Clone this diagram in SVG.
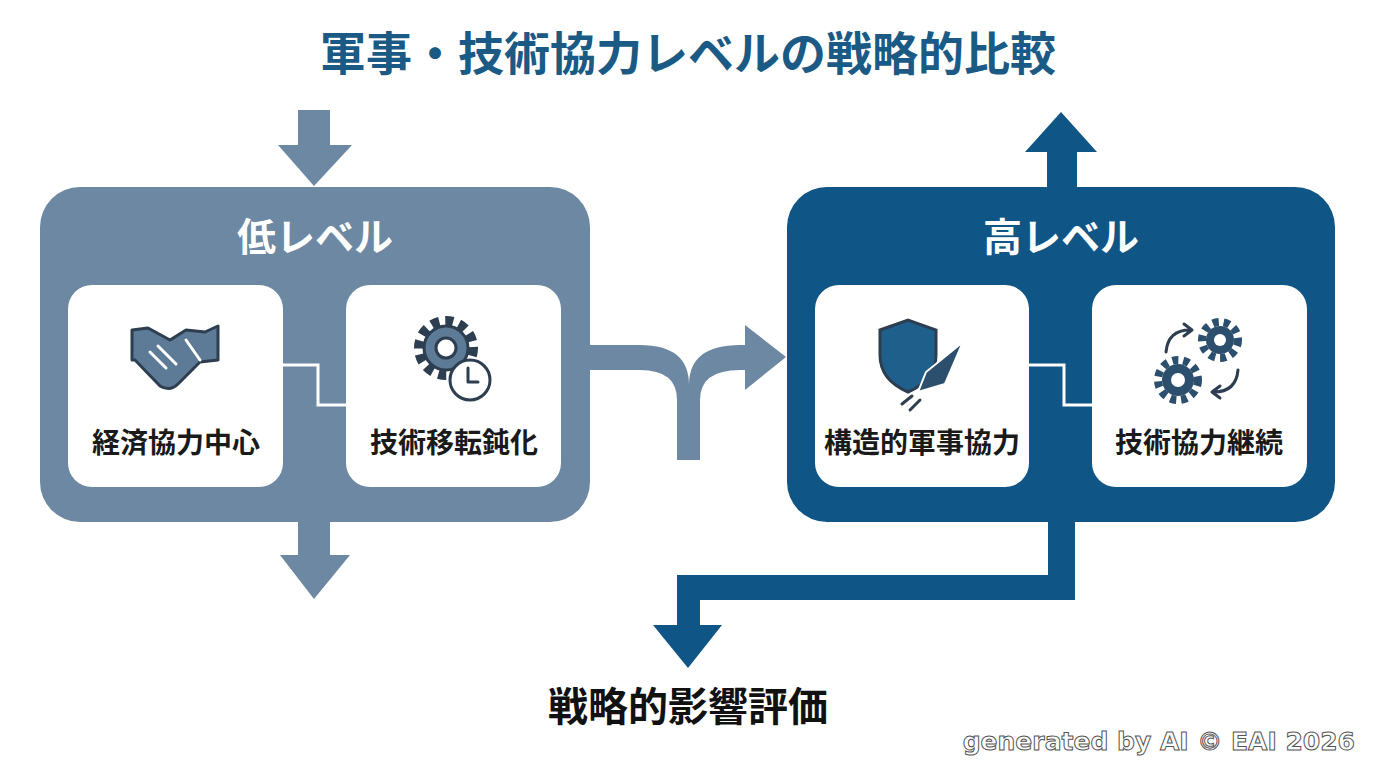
<svg xmlns="http://www.w3.org/2000/svg" width="1376" height="768" viewBox="0 0 1376 768">
<style>
.t{font-family:"Noto Sans CJK JP","Noto Sans",sans-serif;font-weight:700}
.lo{fill:#6d88a2}.hi{fill:#0f5585}
.card{fill:#fff}
.lbl{font-size:28px;fill:#1a1a1a;text-anchor:middle}
.hd{font-size:39px;fill:#fff;text-anchor:middle}
.ic{fill:none;stroke:#2c3e50;stroke-width:3;stroke-linejoin:round;stroke-linecap:round}
</style>
<rect width="1376" height="768" fill="#fff"/>
<text class="t" x="688" y="70" font-size="46" fill="#1a5a85" text-anchor="middle">軍事・技術協力レベルの戦略的比較</text>
<g id="connectors">
<polygon class="lo" points="298,110 330,110 330,145 352,145 314,186 278,145 298,145"/>
<polygon class="lo" points="298,520 330,520 330,555 350,555 314,599 280,555 298,555"/>
<path class="lo" d="M588,345 H640 Q689,345 689,385 Q689,345 740,345 H745 V325 L786,357 L745,390 V370 H740 Q700,370 700,400 V460 H677 V400 Q677,370 640,370 H588 Z"/>
<polygon class="hi" points="1047,190 1047,152 1025,152 1061,112 1097,152 1077,152 1077,190"/>
<polygon class="hi" points="1048,518 1075,518 1075,600 700,600 700,625 722,625 688,668 653,625 677,625 677,575 1048,575"/>
</g>
<g id="low">
<rect class="lo" x="40" y="187" width="550" height="335" rx="40"/>
<text class="t hd" x="315" y="251">低レベル</text>
<path d="M283,365 H318 V405 H346" fill="none" stroke="#fff" stroke-width="3"/>
</g>
<g id="card-econ">
<rect class="card" x="68" y="285" width="215" height="202" rx="24"/>
<g class="ic"><path d="M132,330 L148,328 L170,340 L186,330 L205,332 L218,326 L218,360 L200,362 L178,384 Q170,392 160,386 L135,360 L132,360 Z" fill="#5d7a96"/><path d="M150,352 L166,368 M158,346 L176,364 M186,340 L200,360" stroke="#fff"/></g>
<text class="t lbl" x="176" y="453">経済協力中心</text>
</g>
<g id="card-tech">
<rect class="card" x="346" y="285" width="215" height="202" rx="24"/>
<circle cx="446" cy="348" r="27" fill="none" stroke="#2c3e50" stroke-width="10" stroke-dasharray="8 6"/>
<circle cx="446" cy="348" r="22" fill="#5d7a96" stroke="#2c3e50" stroke-width="3"/>
<circle cx="446" cy="348" r="10" fill="#fff" stroke="#2c3e50" stroke-width="3"/>
<circle cx="470" cy="380" r="20" fill="#fff" stroke="#2c3e50" stroke-width="3"/>
<path class="ic" d="M468,368 V382 H478"/>
<text class="t lbl" x="454" y="453">技術移転鈍化</text>
</g>
<g id="high">
<rect class="hi" x="787" y="187" width="548" height="335" rx="40"/>
<text class="t hd" x="1061" y="251">高レベル</text>
<path d="M1029,365 H1064 V405 H1092" fill="none" stroke="#fff" stroke-width="3"/>
</g>
<g id="card-mil">
<rect class="card" x="815" y="285" width="214" height="202" rx="24"/>
<path d="M880,330 L908,320 L936,330 V355 Q936,380 908,392 Q880,380 880,355 Z" fill="#1f5f8b" stroke="#2c3e50" stroke-width="3"/>
<path d="M963,342 L945,384 L918,392 L926,372 Z" fill="#2c4f6e" stroke="#fff" stroke-width="2"/>
<path d="M912,396 L902,404 M920,400 L910,410" class="ic"/>
<text class="t lbl" x="922" y="453">構造的軍事協力</text>
</g>
<g id="card-cont">
<rect class="card" x="1092" y="285" width="215" height="202" rx="24"/>
<circle cx="1220" cy="340" r="18" fill="none" stroke="#2c4f6e" stroke-width="8" stroke-dasharray="6 5"/>
<circle cx="1220" cy="340" r="14" fill="#2c4f6e"/>
<circle cx="1178" cy="380" r="20" fill="none" stroke="#2c4f6e" stroke-width="8" stroke-dasharray="6 5"/>
<circle cx="1178" cy="380" r="16" fill="#2c4f6e"/>
<circle cx="1220" cy="340" r="6" fill="#fff"/><circle cx="1178" cy="380" r="7" fill="#fff"/>
<g class="ic" stroke-width="4"><path d="M1166,352 Q1168,330 1190,330 M1184,324 l8,6 l-8,6 M1238,370 Q1236,392 1214,392 M1220,386 l-8,6 l8,6"/></g>
<text class="t lbl" x="1199" y="453">技術協力継続</text>
</g>
<text class="t" x="688" y="721" font-size="40" fill="#111" text-anchor="middle">戦略的影響評価</text>
<text x="1355" y="750" font-family="DejaVu Sans" font-weight="700" font-size="25" fill="#fff" stroke="#555" stroke-width="1" text-anchor="end">generated by AI © EAI 2026</text>
</svg>
